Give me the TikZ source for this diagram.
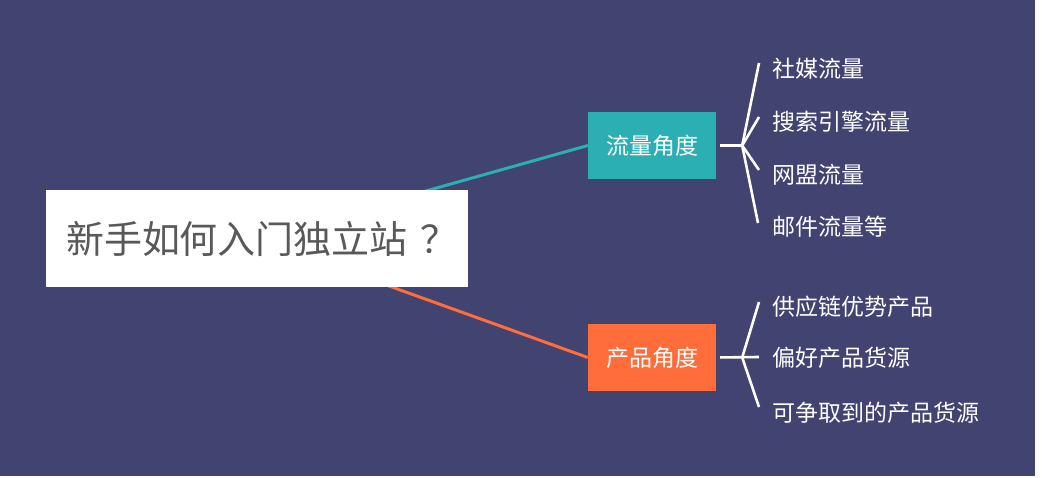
\documentclass[tikz,border=0pt]{standalone}
\usepackage{fontspec}
\setmainfont{Noto Sans CJK SC}
\usetikzlibrary{calc, positioning, backgrounds}
\definecolor{mybg}{RGB}{65,67,112}
\definecolor{myteal}{RGB}{43,175,179}
\definecolor{myorange}{RGB}{255,109,59}
\definecolor{mygray}{RGB}{89,89,89}

\tikzset{
 topic/.style={minimum width=128pt, minimum height=67pt, inner sep=0pt, text=white, font=\fontsize{23}{27}\selectfont},
 leaf/.style={anchor=west, inner sep=0pt, text=white, font=\fontsize{23}{27}\selectfont},
 brace/.style={draw=white, line width=2.6pt},
}

\begin{document}
\begin{tikzpicture}[x=1pt, y=-1pt]
\useasboundingbox (0,0) rectangle (1042,478);

 \node[fill=white, text=mygray, inner xsep=20pt, minimum height=97pt, font=\fontsize{38}{44}\selectfont] (main) at (257,238.5) {\makebox[382pt][l]{新手如何入门独立站\hspace{13pt}？}};

 \node[topic, fill=myteal] (flow) at (652,145.5) {流量角度};
 \node[topic, fill=myorange] (prod) at (652,357.5) {产品角度};

 \node[leaf] (f1) at (772,69) {社媒流量};
 \node[leaf] (f2) at (772,122) {搜索引擎流量};
 \node[leaf] (f3) at (772,175) {网盟流量};
 \node[leaf] (f4) at (772,227) {邮件流量等};

 \node[leaf] (p1) at (772,307) {供应链优势产品};
 \node[leaf] (p2) at (772,358) {偏好产品货源};
 \node[leaf] (p3) at (772,413) {可争取到的产品货源};

 \begin{scope}[on background layer]
 \fill[mybg] (0,0) rectangle (1035,476);
 \draw[myteal, line width=3pt] (main.center) -- (flow.west);
 \draw[myorange, line width=3pt] (main.center) -- (prod.west);
 \end{scope}

 \coordinate (fj) at ($(flow.east)+(26,0)$);
 \draw[brace, shorten <=4pt] (flow.east) -- (fj);
 \draw[brace] (fj) -- ($(f1.west)+(-13,-6)$);
 \draw[brace] (fj) -- ($(f2.west)+(-13,-5)$);
 \draw[brace] (fj) -- ($(f3.west)+(-13,-5)$);
 \draw[brace] (fj) -- ($(f4.west)+(-14,-4)$);

 \coordinate (pj) at ($(prod.east)+(26,0)$);
 \draw[brace, shorten <=4pt] (prod.east) -- ($(p2.west)+(-13,-1)$);
 \draw[brace] (pj) -- ($(p1.west)+(-13,-5)$);
 \draw[brace] (pj) -- ($(p3.west)+(-13,-6)$);

\end{tikzpicture}
\end{document}
